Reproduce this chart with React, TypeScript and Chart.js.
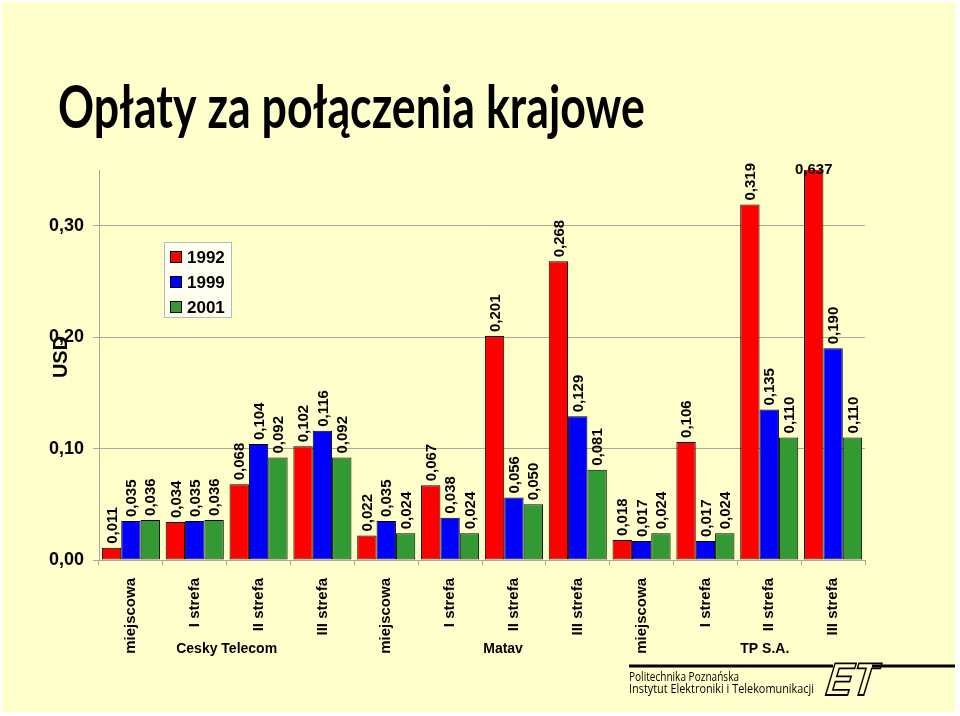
import React, { useEffect, useRef } from "react";
import { Chart, registerables } from "chart.js";

Chart.register(...registerables);

const categories = [
  "miejscowa", "I strefa", "II strefa", "III strefa",
  "miejscowa", "I strefa", "II strefa", "III strefa",
  "miejscowa", "I strefa", "II strefa", "III strefa",
];
const seriesNames = ["1992", "1999", "2001"];
const values1992 = [0.011, 0.034, 0.068, 0.102, 0.022, 0.067, 0.201, 0.268, 0.018, 0.106, 0.319, 0.637];
const values1999 = [0.035, 0.035, 0.104, 0.116, 0.035, 0.038, 0.056, 0.129, 0.017, 0.017, 0.135, 0.190];
const values2001 = [0.036, 0.036, 0.092, 0.092, 0.024, 0.024, 0.050, 0.081, 0.024, 0.024, 0.110, 0.110];
const yTicks = [0, 0.1, 0.2, 0.3];
const groupNames = ["Cesky Telecom", "Matav", "TP S.A."];
const groupAnchors = [1.5, 5.83, 9.93];
const titleText = "Opłaty za połączenia krajowe";
const yTitle = "USD";
const footerLines = ["Politechnika Poznańska", "Instytut Elektroniki i Telekomunikacji"];

const COLORS = ["#FF0000", "#0000FF", "#339933"];
const BG = "#FFFFCC";
const GRID = "#A9A99A";
const fmt = (v: number, d: number) => v.toFixed(d).replace(".", ",");

const decorPlugin = {
  id: "decor",
  beforeDraw(chart: any) {
    const ctx = chart.ctx;
    ctx.save();
    ctx.fillStyle = "#FFFFFF";
    ctx.fillRect(0, 0, chart.width, chart.height);
    ctx.fillStyle = BG;
    ctx.fillRect(2, 2, 953, 710);
    ctx.restore();
  },
  afterDraw(chart: any) {
    const ctx = chart.ctx;
    const area = chart.chartArea;
    const xs = chart.scales.x;
    const ys = chart.scales.y;

    // Title
    ctx.save();
    ctx.fillStyle = "#000";
    ctx.font = 'bold 59px "Lato", "DejaVu Sans", sans-serif';
    const tw = ctx.measureText(titleText).width;
    ctx.translate(58, 128);
    ctx.scale(587 / tw, 1);
    ctx.textBaseline = "alphabetic";
    ctx.textAlign = "left";
    ctx.fillText(titleText, 0, 0);
    ctx.restore();

    // Y title
    ctx.save();
    ctx.fillStyle = "#000";
    ctx.font = 'bold 20px "Liberation Sans", Arial, sans-serif';
    ctx.translate(61, 357);
    ctx.rotate(-Math.PI / 2);
    ctx.textAlign = "center";
    ctx.textBaseline = "middle";
    ctx.fillText(yTitle, 0, 0);
    ctx.restore();

    // Data labels
    ctx.save();
    ctx.fillStyle = "#000";
    chart.data.datasets.forEach((ds: any, di: number) => {
      const meta = chart.getDatasetMeta(di);
      meta.data.forEach((bar: any, i: number) => {
        const v = ds.data[i];
        const txt = fmt(v, 3);
        if (v > ys.max) {
          ctx.font = 'bold 15px "Liberation Sans", Arial, sans-serif';
          ctx.textAlign = "center";
          ctx.textBaseline = "middle";
          ctx.fillText(txt, bar.x, area.top);
        } else {
          ctx.save();
          ctx.font = 'bold 15px "Liberation Sans", Arial, sans-serif';
          ctx.translate(bar.x + 1, bar.y - 4);
          ctx.rotate(-Math.PI / 2);
          ctx.textAlign = "left";
          ctx.textBaseline = "middle";
          ctx.fillText(txt, 0, 0);
          ctx.restore();
        }
      });
    });
    ctx.restore();

    // Legend
    ctx.save();
    ctx.fillStyle = "#FFFFF0";
    ctx.fillRect(164.5, 242.5, 67, 75);
    ctx.strokeStyle = "#B8B8B8";
    ctx.lineWidth = 1;
    ctx.strokeRect(164.5, 242.5, 67, 75);
    ctx.font = 'bold 17px "Liberation Sans", Arial, sans-serif';
    ctx.textBaseline = "middle";
    ctx.textAlign = "left";
    chart.data.datasets.forEach((ds: any, di: number) => {
      const cy = 257 + di * 25;
      ctx.fillStyle = ds.backgroundColor;
      ctx.fillRect(170.5, cy - 5.5, 11, 11);
      ctx.strokeStyle = "#000";
      ctx.strokeRect(170.5, cy - 5.5, 11, 11);
      ctx.fillStyle = "#000";
      ctx.fillText(ds.label, 187, cy + 1);
    });
    ctx.restore();

    // Group labels
    ctx.save();
    ctx.fillStyle = "#000";
    ctx.font = 'bold 14px "Liberation Sans", Arial, sans-serif';
    ctx.textAlign = "center";
    ctx.textBaseline = "middle";
    groupNames.forEach((g, i) => {
      ctx.fillText(g, xs.getPixelForValue(groupAnchors[i]), 649);
    });
    ctx.restore();

    // Footer
    ctx.save();
    ctx.strokeStyle = "#000";
    ctx.lineWidth = 3;
    ctx.beginPath();
    ctx.moveTo(629, 666);
    ctx.lineTo(833, 666);
    ctx.moveTo(872, 666);
    ctx.lineTo(955, 666);
    ctx.stroke();
    ctx.fillStyle = "#000";
    ctx.textBaseline = "middle";
    ctx.textAlign = "left";
    const widths = [110, 185];
    footerLines.forEach((t, i) => {
      ctx.save();
      ctx.font = '12px "Open Sans", "DejaVu Sans", sans-serif';
      const w = ctx.measureText(t).width;
      ctx.translate(629, 678 + i * 12);
      ctx.scale(widths[i] / w, 1);
      ctx.fillText(t, 0, 0);
      ctx.restore();
    });
    // ET logo
    ctx.save();
    ctx.translate(823, 695);
    ctx.transform(0.85, 0, -0.3, 1, 0, 0);
    ctx.font = 'bold 46px "Liberation Sans", Arial, sans-serif';
    ctx.lineWidth = 1.8;
    ctx.strokeStyle = "#000";
    ctx.textAlign = "left";
    ctx.textBaseline = "alphabetic";
    ctx.strokeText("ET", 0, 0);
    ctx.restore();
    ctx.restore();
  },
};

export default function App() {
  const ref = useRef<HTMLCanvasElement | null>(null);
  useEffect(() => {
    if (!ref.current) return;
    const datasets = [values1992, values1999, values2001].map((d, i) => ({
      label: seriesNames[i],
      data: d,
      backgroundColor: COLORS[i],
      borderColor: "#000",
      borderWidth: 1,
      borderSkipped: false as any,
      categoryPercentage: 0.91,
      barPercentage: 1,
    }));
    const chart = new Chart(ref.current, {
      type: "bar",
      data: { labels: categories, datasets },
      options: {
        animation: false,
        responsive: false,
        layout: { padding: { left: 0, right: 95, top: 170, bottom: 0 } },
        plugins: {
          legend: { display: false },
          tooltip: { enabled: false },
          title: { display: false },
        },
        scales: {
          x: {
            grid: { offset: true, drawOnChartArea: false, tickLength: 5, color: GRID },
            border: { color: GRID },
            ticks: {
              minRotation: 90,
              maxRotation: 90,
              padding: 13,
              color: "#000",
              font: { family: '"Liberation Sans", Arial, sans-serif', size: 15, weight: "bold" },
            },
            afterFit: (s: any) => { s.height = 156; },
          },
          y: {
            min: 0,
            max: 0.35,
            afterBuildTicks: (s: any) => { s.ticks = yTicks.map((v) => ({ value: v })); },
            grid: { color: GRID, tickLength: 6 },
            border: { color: GRID },
            ticks: {
              padding: 9,
              color: "#000",
              font: { family: '"Liberation Sans", Arial, sans-serif', size: 18, weight: "bold" },
              callback: (v: any) => fmt(Number(v), 2),
            },
            afterFit: (s: any) => { s.width = 99; },
          },
        },
      },
      plugins: [decorPlugin],
    });
    return () => chart.destroy();
  }, []);
  return (
    <div style={{ position: "fixed", left: 0, top: 0, width: 960, height: 716 }}>
      <canvas ref={ref} width={960} height={716} style={{ width: 960, height: 716, display: "block" }} />
    </div>
  );
}
